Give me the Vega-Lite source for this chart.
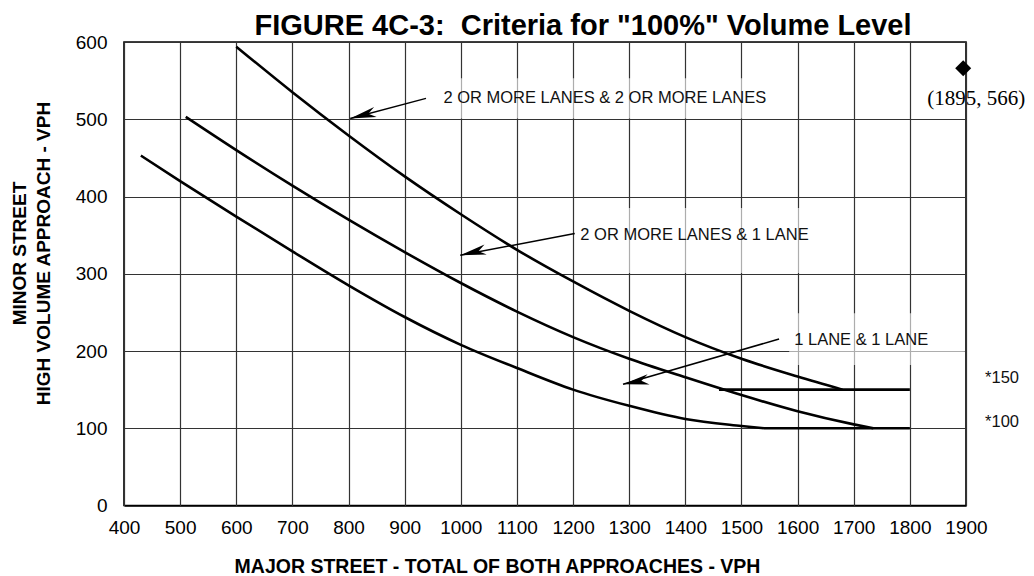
{
  "$schema": "https://vega.github.io/schema/vega-lite/v6.json",
  "width": 842,
  "height": 463.5,
  "autosize": "none",
  "padding": {"left": 124, "top": 42, "right": 68, "bottom": 70.5},
  "background": "white",
  "config": {
    "view": {"stroke": "black", "strokeWidth": 1.6},
    "font": "Liberation Sans"
  },
  "title": {
    "text": "FIGURE 4C-3:\u00a0 Criteria for \"100%\" Volume Level",
    "font": "Liberation Sans",
    "fontSize": 29,
    "fontWeight": "bold",
    "color": "black",
    "anchor": "middle",
    "frame": "group",
    "dx": 38,
    "offset": -31,
    "baseline": "alphabetic"
  },
  "datasets": {
    "curves": [
      {"series": "2 OR MORE LANES & 2 OR MORE LANES", "x": 600, "y": 594},
      {"series": "2 OR MORE LANES & 2 OR MORE LANES", "x": 700, "y": 535},
      {"series": "2 OR MORE LANES & 2 OR MORE LANES", "x": 800, "y": 479},
      {"series": "2 OR MORE LANES & 2 OR MORE LANES", "x": 900, "y": 426},
      {"series": "2 OR MORE LANES & 2 OR MORE LANES", "x": 1000, "y": 377},
      {"series": "2 OR MORE LANES & 2 OR MORE LANES", "x": 1100, "y": 331},
      {"series": "2 OR MORE LANES & 2 OR MORE LANES", "x": 1200, "y": 290},
      {"series": "2 OR MORE LANES & 2 OR MORE LANES", "x": 1300, "y": 252},
      {"series": "2 OR MORE LANES & 2 OR MORE LANES", "x": 1400, "y": 218},
      {"series": "2 OR MORE LANES & 2 OR MORE LANES", "x": 1500, "y": 190},
      {"series": "2 OR MORE LANES & 2 OR MORE LANES", "x": 1600, "y": 167},
      {"series": "2 OR MORE LANES & 2 OR MORE LANES", "x": 1680, "y": 150},
      {"series": "2 OR MORE LANES & 1 LANE", "x": 510, "y": 503},
      {"series": "2 OR MORE LANES & 1 LANE", "x": 600, "y": 460},
      {"series": "2 OR MORE LANES & 1 LANE", "x": 700, "y": 414},
      {"series": "2 OR MORE LANES & 1 LANE", "x": 800, "y": 370},
      {"series": "2 OR MORE LANES & 1 LANE", "x": 900, "y": 328},
      {"series": "2 OR MORE LANES & 1 LANE", "x": 1000, "y": 288},
      {"series": "2 OR MORE LANES & 1 LANE", "x": 1100, "y": 251},
      {"series": "2 OR MORE LANES & 1 LANE", "x": 1200, "y": 218},
      {"series": "2 OR MORE LANES & 1 LANE", "x": 1300, "y": 190},
      {"series": "2 OR MORE LANES & 1 LANE", "x": 1400, "y": 166},
      {"series": "2 OR MORE LANES & 1 LANE", "x": 1500, "y": 143},
      {"series": "2 OR MORE LANES & 1 LANE", "x": 1600, "y": 122},
      {"series": "2 OR MORE LANES & 1 LANE", "x": 1700, "y": 105},
      {"series": "2 OR MORE LANES & 1 LANE", "x": 1735, "y": 100},
      {"series": "1 LANE & 1 LANE", "x": 430, "y": 453},
      {"series": "1 LANE & 1 LANE", "x": 500, "y": 420},
      {"series": "1 LANE & 1 LANE", "x": 600, "y": 374},
      {"series": "1 LANE & 1 LANE", "x": 700, "y": 329},
      {"series": "1 LANE & 1 LANE", "x": 800, "y": 285},
      {"series": "1 LANE & 1 LANE", "x": 900, "y": 244},
      {"series": "1 LANE & 1 LANE", "x": 1000, "y": 208},
      {"series": "1 LANE & 1 LANE", "x": 1100, "y": 178},
      {"series": "1 LANE & 1 LANE", "x": 1200, "y": 150},
      {"series": "1 LANE & 1 LANE", "x": 1300, "y": 129},
      {"series": "1 LANE & 1 LANE", "x": 1400, "y": 112},
      {"series": "1 LANE & 1 LANE", "x": 1500, "y": 103},
      {"series": "1 LANE & 1 LANE", "x": 1540, "y": 100},
      {"series": "*150", "x": 1460, "y": 150},
      {"series": "*150", "x": 1800, "y": 150},
      {"series": "*100", "x": 1540, "y": 100},
      {"series": "*100", "x": 1800, "y": 100}
    ],
    "boxes": [
      {"x": 963, "x2": 1573, "y": 501, "y2": 553},
      {"x": 1210, "x2": 1606, "y": 301, "y2": 385},
      {"x": 1585, "x2": 1898, "y": 182, "y2": 249}
    ],
    "arrows": [
      {"label": "2 OR MORE LANES & 2 OR MORE LANES", "x": 938, "y": 527, "x2": 803, "y2": 501},
      {"label": "2 OR MORE LANES & 1 LANE", "x": 1203, "y": 352, "x2": 999, "y2": 324},
      {"label": "1 LANE & 1 LANE", "x": 1567, "y": 215.5, "x2": 1289, "y2": 157}
    ],
    "labels": [
      {"text": "2 OR MORE LANES & 2 OR MORE LANES", "x": 969, "y": 527},
      {"text": "2 OR MORE LANES & 1 LANE", "x": 1213, "y": 350},
      {"text": "1 LANE & 1 LANE", "x": 1594, "y": 214},
      {"text": "*150", "x": 1934, "y": 165.5},
      {"text": "*100", "x": 1934, "y": 108.5}
    ],
    "point": [
      {"x": 1895, "y": 566, "label": "(1895, 566)"}
    ]
  },
  "layer": [
    {
      "data": {"name": "boxes"},
      "mark": {"type": "rect", "fill": "white", "opacity": 0.6},
      "encoding": {
        "x": {"field": "x", "type": "quantitative", "scale": {"domain": [400, 1900], "nice": false, "zero": false},
          "axis": {
            "values": [400, 500, 600, 700, 800, 900, 1000, 1100, 1200, 1300, 1400, 1500, 1600, 1700, 1800, 1900],
            "format": "d",
            "grid": true, "gridColor": "#333", "gridWidth": 1.2, "gridOpacity": 1,
            "domain": false, "ticks": false,
            "labelFont": "Liberation Sans", "labelFontSize": 19, "labelColor": "black", "labelPadding": 13, "labelFlush": false,
            "title": "MAJOR STREET - TOTAL OF BOTH APPROACHES - VPH",
            "titleFont": "Liberation Sans", "titleFontSize": 19.5, "titleFontWeight": "bold", "titleColor": "black",
            "titleX": 373, "titleY": 66.5, "titleAlign": "center", "titleBaseline": "alphabetic"
          }},
        "x2": {"field": "x2"},
        "y": {"field": "y", "type": "quantitative", "scale": {"domain": [0, 600], "nice": false, "zero": false},
          "axis": {
            "values": [0, 100, 200, 300, 400, 500, 600],
            "format": "d",
            "grid": true, "gridColor": "#333", "gridWidth": 1.2, "gridOpacity": 1,
            "domain": false, "ticks": false,
            "labelFont": "Liberation Sans", "labelFontSize": 19, "labelColor": "black", "labelPadding": 17, "labelFlush": false,
            "title": ["MINOR STREET", "HIGH VOLUME APPROACH - VPH"],
            "titleFont": "Liberation Sans", "titleFontSize": 19, "titleFontWeight": "bold", "titleColor": "black",
            "titleX": -99, "titleY": 211, "titleAlign": "center", "titleBaseline": "alphabetic", "titleLineHeight": 24, "titleAngle": 270
          }},
        "y2": {"field": "y2"}
      }
    },
    {
      "data": {"name": "curves"},
      "mark": {"type": "line", "color": "black", "strokeWidth": 2.6, "interpolate": "monotone"},
      "encoding": {
        "x": {"field": "x", "type": "quantitative", "scale": {"domain": [400, 1900], "nice": false, "zero": false}},
        "y": {"field": "y", "type": "quantitative", "scale": {"domain": [0, 600], "nice": false, "zero": false}},
        "detail": {"field": "series", "type": "nominal"}
      }
    },
    {
      "data": {"name": "arrows"},
      "mark": {"type": "rule", "color": "black", "strokeWidth": 1.5},
      "encoding": {
        "x": {"field": "x", "type": "quantitative", "scale": {"domain": [400, 1900], "nice": false, "zero": false}},
        "y": {"field": "y", "type": "quantitative", "scale": {"domain": [0, 600], "nice": false, "zero": false}},
        "x2": {"field": "x2"},
        "y2": {"field": "y2"}
      }
    },
    {
      "data": {"name": "arrows"},
      "mark": {"type": "point", "filled": true, "color": "black", "opacity": 1, "shape": "M0,0 L0.2,1 L0,0.72 L-0.2,1 Z", "size": 2704},
      "encoding": {
        "x": {"field": "x2", "type": "quantitative", "scale": {"domain": [400, 1900], "nice": false, "zero": false}},
        "y": {"field": "y2", "type": "quantitative", "scale": {"domain": [0, 600], "nice": false, "zero": false}},
        "angle": {"field": "label", "type": "nominal", "legend": null,
          "scale": {"domain": ["2 OR MORE LANES & 2 OR MORE LANES", "2 OR MORE LANES & 1 LANE", "1 LANE & 1 LANE"], "range": [255.5, 259.3, 253.9]}}
      }
    },
    {
      "data": {"name": "labels"},
      "mark": {"type": "text", "align": "left", "baseline": "middle", "font": "Liberation Sans", "fontSize": 16.5, "color": "#111"},
      "encoding": {
        "x": {"field": "x", "type": "quantitative", "scale": {"domain": [400, 1900], "nice": false, "zero": false}},
        "y": {"field": "y", "type": "quantitative", "scale": {"domain": [0, 600], "nice": false, "zero": false}},
        "text": {"field": "text"}
      }
    },
    {
      "data": {"name": "point"},
      "mark": {"type": "point", "shape": "diamond", "filled": true, "color": "black", "opacity": 1, "size": 256},
      "encoding": {
        "x": {"field": "x", "type": "quantitative", "scale": {"domain": [400, 1900], "nice": false, "zero": false}},
        "y": {"field": "y", "type": "quantitative", "scale": {"domain": [0, 600], "nice": false, "zero": false}}
      }
    },
    {
      "data": {"name": "point"},
      "mark": {"type": "text", "align": "center", "baseline": "alphabetic", "font": "Liberation Serif", "fontSize": 21, "color": "black", "dx": 13, "dy": 37},
      "encoding": {
        "x": {"field": "x", "type": "quantitative", "scale": {"domain": [400, 1900], "nice": false, "zero": false}},
        "y": {"field": "y", "type": "quantitative", "scale": {"domain": [0, 600], "nice": false, "zero": false}},
        "text": {"field": "label"}
      }
    }
  ]
}
